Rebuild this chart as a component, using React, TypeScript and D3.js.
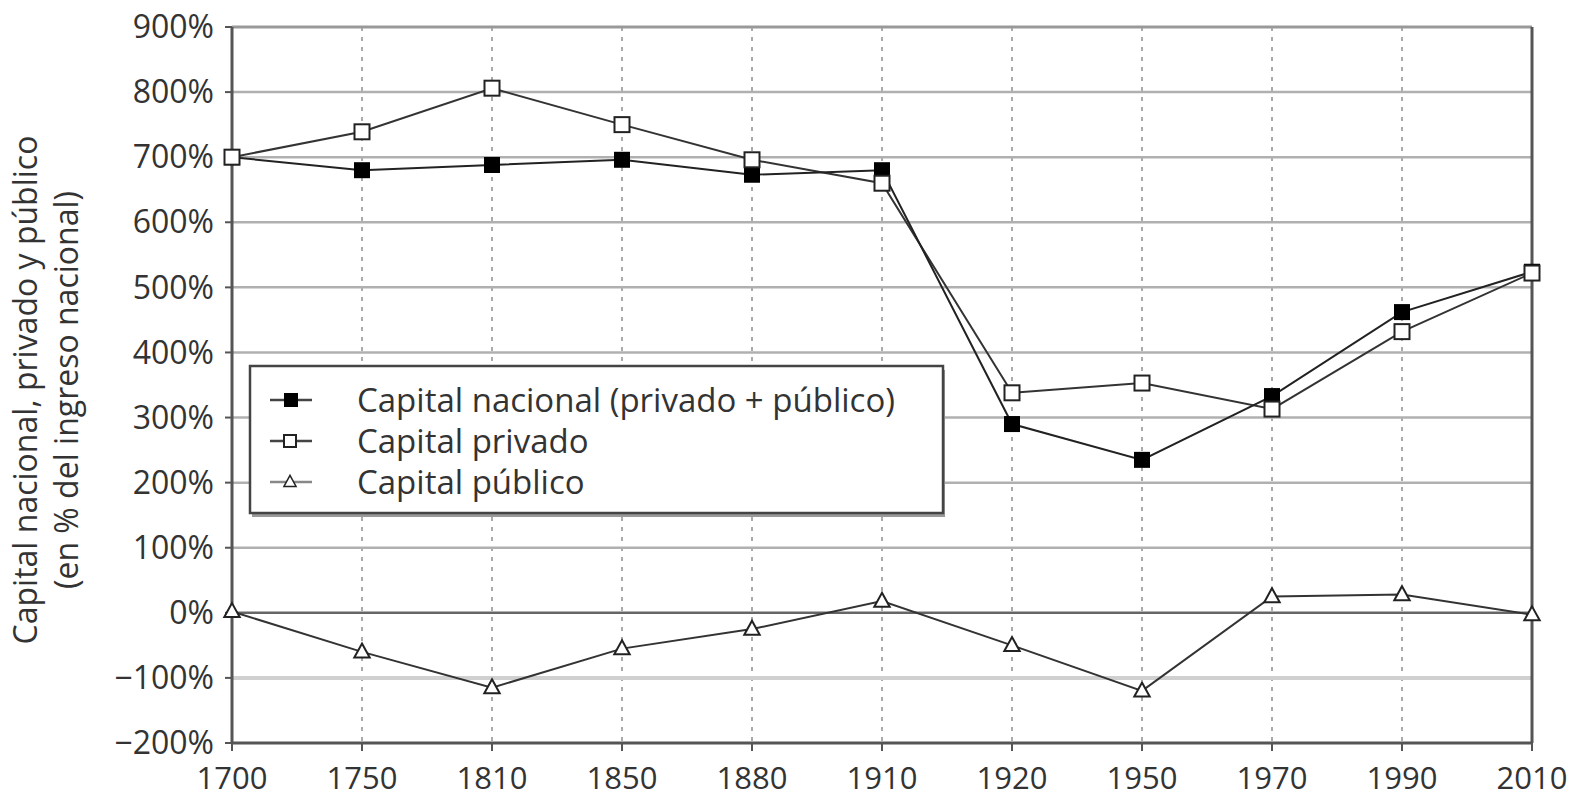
import React from "react";
import * as d3 from "d3";

const years = ["1700", "1750", "1810", "1850", "1880", "1910", "1920", "1950", "1970", "1990", "2010"];
const nacional = [700, 680, 688, 696, 673, 680, 290, 235, 333, 462, 524];
const privado = [700, 739, 806, 750, 696, 660, 338, 353, 313, 432, 522];
const publico = [2, -60, -115, -55, -25, 18, -50, -120, 25, 28, -3];
const yTicks = [900, 800, 700, 600, 500, 400, 300, 200, 100, 0, -100, -200];
const legendLabels = ["Capital nacional (privado + público)", "Capital privado", "Capital público"];
const yTitle = ["Capital nacional, privado y público", "(en % del ingreso nacional)"];

const W = 1569, H = 800;
const left = 232, right = 1532, top = 27, bottom = 743;
const font = "'Open Sans', sans-serif";

export default function App() {
  const x = d3.scalePoint<string>().domain(years).range([left, right]);
  const y = d3.scaleLinear().domain([-200, 900]).range([bottom, top]);
  const line = d3.line<number>().x((_, i) => x(years[i])!).y((d) => y(d));

  const gridColor = (v: number) => (v === 0 ? "#666" : v === -100 ? "#d0d0d0" : v === 900 ? "#999" : "#b0b0b0");
  const gridWidth = (v: number) => (v === -100 ? 4 : v === 900 ? 3 : 2.5);

  const sq = 15;
  const tri = (cx: number, cy: number, s: number) =>
    `M${cx},${cy - s * 0.6}L${cx + s * 0.55},${cy + s * 0.4}L${cx - s * 0.55},${cy + s * 0.4}Z`;

  const legX = 250, legY = 366, legW = 693, legH = 147;

  return (
    <svg width={W} height={H} style={{ position: "absolute", left: 0, top: 0, background: "#fff" }}>
      <rect x={0} y={0} width={W} height={H} fill="#fff" />
      {years.map((yr) => (
        <line key={"v" + yr} x1={x(yr)} x2={x(yr)} y1={top} y2={bottom} stroke="#aaa" strokeWidth={2} strokeDasharray="4,6" />
      ))}
      {yTicks.filter((v) => v !== -200).map((v) => (
        <line key={"h" + v} x1={left} x2={right} y1={y(v)} y2={y(v)} stroke={gridColor(v)} strokeWidth={gridWidth(v)} />
      ))}
      <line x1={left} x2={left} y1={top} y2={bottom} stroke="#555" strokeWidth={3} />
      <line x1={right} x2={right} y1={top} y2={bottom} stroke="#555" strokeWidth={3} />
      <line x1={left} x2={right} y1={bottom} y2={bottom} stroke="#555" strokeWidth={3} />
      {yTicks.map((v) => (
        <g key={"yt" + v}>
          <line x1={left - 7} x2={left} y1={y(v)} y2={y(v)} stroke="#555" strokeWidth={2} />
          <text x={214} y={y(v)} dy="0.35em" textAnchor="end" fontFamily={font} fontSize={32} fill="#333">
            {v < 0 ? "\u2212" + Math.abs(v) + "%" : v + "%"}
          </text>
        </g>
      ))}
      {years.map((yr) => (
        <g key={"xt" + yr}>
          <line x1={x(yr)} x2={x(yr)} y1={bottom} y2={bottom + 8} stroke="#555" strokeWidth={2} />
          <text x={x(yr)} y={789} textAnchor="middle" fontFamily={font} fontSize={31} fill="#333">{yr}</text>
        </g>
      ))}
      <g transform={`translate(37, 390) rotate(-90)`}>
        <text x={0} y={0} textAnchor="middle" fontFamily={font} fontSize={32} fill="#333">{yTitle[0]}</text>
        <text x={0} y={41} textAnchor="middle" fontFamily={font} fontSize={32} fill="#333">{yTitle[1]}</text>
      </g>
      <path d={line(publico)!} fill="none" stroke="#333" strokeWidth={2} />
      <path d={line(privado)!} fill="none" stroke="#333" strokeWidth={2} />
      <path d={line(nacional)!} fill="none" stroke="#222" strokeWidth={2} />
      {publico.map((v, i) => (
        <path key={"pt" + i} d={tri(x(years[i])!, y(v), 14)} fill="#fff" stroke="#222" strokeWidth={2} />
      ))}
      {nacional.map((v, i) => (
        <rect key={"na" + i} x={x(years[i])! - 8} y={y(v) - 8} width={16} height={16} fill="#000" />
      ))}
      {privado.map((v, i) => (
        <rect key={"pr" + i} x={x(years[i])! - sq / 2} y={y(v) - sq / 2} width={sq} height={sq} fill="#fff" stroke="#222" strokeWidth={2} />
      ))}
      <rect x={legX + 2} y={legY + 4} width={legW} height={legH} fill="#999" />
      <rect x={legX} y={legY} width={legW} height={legH} fill="#fff" stroke="#444" strokeWidth={2.5} />
      {legendLabels.map((lab, i) => {
        const cy = legY + 34 + i * 41;
        return (
          <g key={"lg" + i}>
            <line x1={270} x2={312} y1={cy} y2={cy} stroke={i === 2 ? "#888" : "#444"} strokeWidth={2.5} />
            {i === 0 && <rect x={284} y={cy - 7} width={14} height={14} fill="#000" />}
            {i === 1 && <rect x={284} y={cy - 6} width={12} height={12} fill="#fff" stroke="#222" strokeWidth={2} />}
            {i === 2 && <path d={tri(290, cy, 11)} fill="#fff" stroke="#222" strokeWidth={1.5} />}
            <text x={357} y={cy} dy="0.35em" fontFamily={font} fontSize={33} fill="#333">{lab}</text>
          </g>
        );
      })}
    </svg>
  );
}
